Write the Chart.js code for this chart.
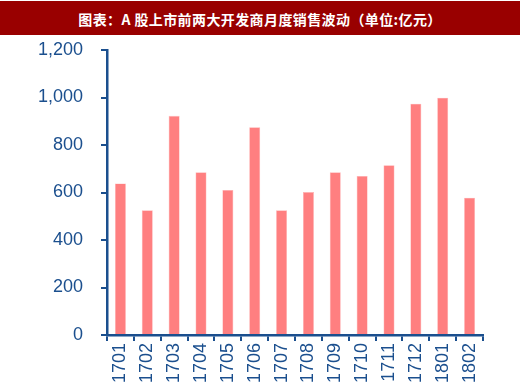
<!DOCTYPE html>
<html><head><meta charset="utf-8">
<script src="https://cdn.jsdelivr.net/npm/chart.js@4/dist/chart.umd.min.js"></script>
<style>
html,body{margin:0;padding:0;width:520px;height:385px;overflow:hidden;background:#fff;}
#title{position:absolute;left:0;top:1px;width:520px;height:34px;background:#990000;color:#fff;
font:bold 14px "Noto Sans CJK SC",sans-serif;line-height:36px;text-align:center;letter-spacing:0.4px;}
#wrap{position:absolute;left:0;top:0;width:520px;height:400px;}
</style></head>
<body>
<div id="wrap"><canvas id="c" width="520" height="400"></canvas></div>
<div id="title">图表：A 股上市前两大开发商月度销售波动（单位:亿元）</div>
<script>
const categories = ["1701","1702","1703","1704","1705","1706","1707","1708","1709","1710","1711","1712","1801","1802"];
const salesValues = [638, 525, 923, 685, 611, 875, 525, 602, 685, 670, 715, 974, 999, 578];
const yTicks = [0, 200, 400, 600, 800, 1000, 1200];

const axisColor = '#1b4f8e';
new Chart(document.getElementById('c'), {
  type: 'bar',
  data: {
    labels: categories,
    datasets: [{
      data: salesValues,
      backgroundColor: '#ff7f80',
      borderColor: '#ffb3b3',
      borderWidth: 0.6,
      barPercentage: 0.41,
      categoryPercentage: 1
    }]
  },
  options: {
    responsive: false,
    animation: false,
    plugins: { legend: { display: false }, tooltip: { enabled: false } },
    layout: { padding: { top: 50, right: 37, left: 0, bottom: 0 } },
    scales: {
      x: {
        grid: { offset: true, drawOnChartArea: false, color: axisColor, lineWidth: 2, tickLength: 6 },
        border: { color: axisColor, width: 2.5 },
        ticks: { color: axisColor, minRotation: 90, maxRotation: 90, padding: 2, font: { family: 'Liberation Sans, Arial', size: 18 } },
        afterFit: s => { s.height = 65; }
      },
      y: {
        min: 0, max: 1200,
        afterBuildTicks: s => { s.ticks = yTicks.map(v => ({ value: v })); },
        grid: { drawOnChartArea: false, color: axisColor, lineWidth: 2, tickLength: 6 },
        border: { color: axisColor, width: 2.5 },
        ticks: { color: axisColor, padding: 18, font: { family: 'Liberation Sans, Arial', size: 18 } },
        afterFit: s => { s.width = 107; }
      }
    }
  }
});
</script>
</body></html>
